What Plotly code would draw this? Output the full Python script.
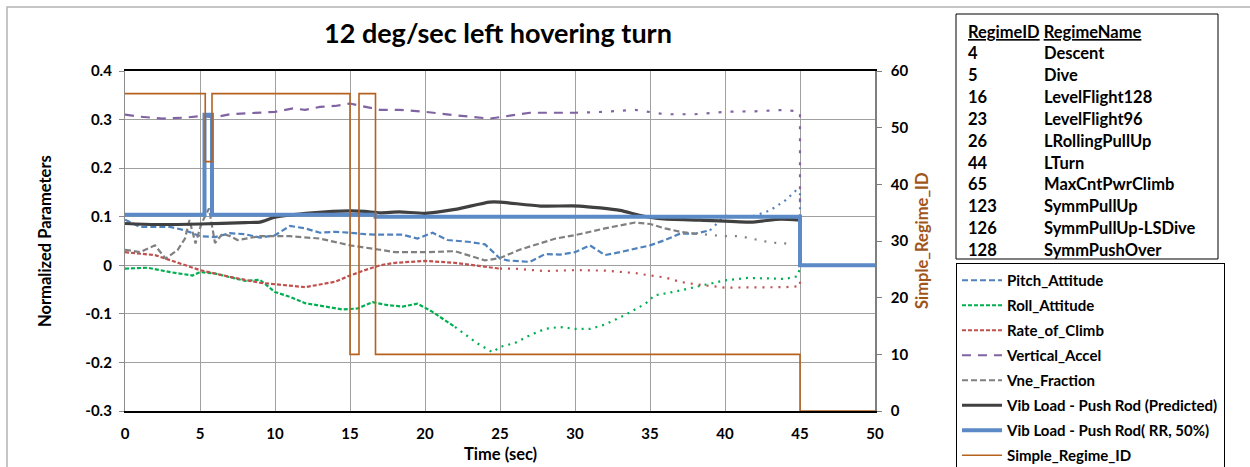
import plotly.graph_objects as go

# ---------------- data ----------------
t_pitch = [0, 1, 3, 4, 5, 6, 7, 8, 9, 10, 11, 12, 13, 14, 15, 16, 17, 18.5, 19.5, 20.5, 21.5, 23, 24, 25,
           25.5, 27, 28, 29, 30, 31, 32, 33, 35, 36, 37, 38, 39, 40, 41, 42, 43, 44, 44.7, 45, 45]
pitch = [0.094, 0.079, 0.079, 0.072, 0.060, 0.058, 0.066, 0.064, 0.057, 0.062, 0.081, 0.076, 0.067, 0.069,
         0.067, 0.064, 0.063, 0.063, 0.055, 0.067, 0.052, 0.048, 0.043, 0.014, 0.010, 0.007, 0.023, 0.022,
         0.027, 0.041, 0.021, 0.027, 0.041, 0.052, 0.065, 0.065, 0.072, 0.102, 0.100, 0.102, 0.113, 0.133,
         0.153, 0.151, 0.100]

t_roll = [0, 1.5, 3, 4.5, 5, 6, 8, 9, 10, 11, 12, 13.5, 14.5, 15.5, 16.5, 17.5, 18.5, 19.5, 20.5, 22, 23.5,
          24.5, 25, 26, 27, 28, 29, 30, 31, 32, 33.3, 34.7, 35.3, 36.7, 38, 38.7, 40, 41.5, 43, 44, 44.8, 45]
roll = [-0.007, -0.005, -0.014, -0.021, -0.014, -0.017, -0.032, -0.030, -0.055, -0.065, -0.078, -0.085,
        -0.091, -0.089, -0.076, -0.082, -0.085, -0.079, -0.096, -0.127, -0.161, -0.179, -0.168, -0.160,
        -0.144, -0.131, -0.127, -0.131, -0.131, -0.122, -0.103, -0.079, -0.062, -0.054, -0.045, -0.039,
        -0.031, -0.026, -0.027, -0.028, -0.023, -0.007]

t_roc = [0, 2, 5, 7, 9, 11, 12, 14, 15, 16, 17, 18, 20, 22, 24, 25, 26, 28, 30, 32, 34, 35, 36, 37, 38, 40,
         42, 44, 45, 45]
roc = [0.027, 0.021, -0.010, -0.024, -0.036, -0.043, -0.045, -0.034, -0.021, -0.010, 0.000, 0.005, 0.009,
       0.005, -0.002, -0.007, -0.007, -0.012, -0.010, -0.011, -0.016, -0.021, -0.025, -0.034, -0.039,
       -0.046, -0.046, -0.045, -0.043, -0.024]

t_va = [0, 1, 2.5, 4, 5, 6, 7, 8.5, 10, 11.2, 12, 13, 14, 15, 16, 17, 18.3, 20, 22, 24.3, 25, 27, 30, 32, 34,
        36, 38, 40, 42, 44, 45, 45]
va = [0.310, 0.306, 0.302, 0.304, 0.307, 0.305, 0.311, 0.314, 0.316, 0.323, 0.320, 0.326, 0.328, 0.333,
      0.326, 0.320, 0.320, 0.316, 0.309, 0.302, 0.305, 0.314, 0.314, 0.316, 0.320, 0.311, 0.311, 0.316,
      0.317, 0.320, 0.316, 0.130]

t_vne = [0, 1, 2, 2.7, 3.5, 4, 4.3, 4.7, 5.1, 5.6, 6, 6.5, 7, 7.5, 9, 11, 13, 15, 17, 18, 20, 22, 24, 25,
         26.3, 27.7, 28.7, 30, 31, 32, 34, 35, 36, 37, 38, 40, 41, 42, 43, 44, 44.6]
vne = [0.032, 0.027, 0.041, 0.014, 0.031, 0.055, 0.093, 0.045, 0.086, 0.117, 0.046, 0.065, 0.060, 0.052,
       0.060, 0.060, 0.055, 0.041, 0.032, 0.027, 0.027, 0.029, 0.010, 0.015, 0.032, 0.045, 0.055, 0.062,
       0.069, 0.076, 0.088, 0.085, 0.076, 0.069, 0.065, 0.060, 0.060, 0.053, 0.047, 0.045, 0.041]

t_pred = [0, 2, 5, 8, 9, 10, 12.5, 15, 16, 17, 18.3, 20, 22, 24.3, 25, 27.7, 30.3, 33, 34.3, 35.7, 38.3,
          41.7, 43.7, 45]
pred = [0.086, 0.084, 0.085, 0.088, 0.089, 0.099, 0.108, 0.112, 0.111, 0.108, 0.110, 0.107, 0.115, 0.130,
        0.130, 0.122, 0.122, 0.113, 0.103, 0.096, 0.093, 0.089, 0.095, 0.093]

t_rr = [0, 5.3, 5.8, 16.7, 45, 50]
rr = [0.104, 0.310, 0.104, 0.100, 0.000, 0.000]

t_reg = [0, 5.35, 5.8, 15.0, 15.6, 16.7, 45, 50]
reg = [56, 44, 56, 10, 56, 10, 0, 0]

y_ticks = [0.4, 0.3, 0.2, 0.1, 0, -0.1, -0.2, -0.3]
y_ticktext = ["0.4", "0.3", "0.2", "0.1", "0", "-0.1", "-0.2", "-0.3"]
x_ticks = [0, 5, 10, 15, 20, 25, 30, 35, 40, 45, 50]
y2_ticks = [0, 10, 20, 30, 40, 50, 60]

regime_ids = ["4", "5", "16", "23", "26", "44", "65", "123", "126", "128"]
regime_names = ["Descent", "Dive", "LevelFlight128", "LevelFlight96", "LRollingPullUp", "LTurn",
                "MaxCntPwrClimb", "SymmPullUp", "SymmPullUp-LSDive", "SymmPushOver"]

title_text = "12 deg/sec left hovering turn"

# ---------------- layout helpers ----------------
W, H = 1250, 467
L, R, T, B = 125, 375, 71, 56
PW, PH = W - L - R, H - T - B
FONT = "Lato"


def px(x):
    return (x - L) / PW


def py(y):
    return (H - B - y) / PH


fig = go.Figure()


def add_split(t, y, name, color, width, dash1, dash2, split_at):
    idx = next((i for i, v in enumerate(t) if v >= split_at), len(t) - 1)
    fig.add_trace(go.Scatter(x=t[:idx + 1], y=y[:idx + 1], mode="lines", name=name, legendgroup=name,
                             line=dict(color=color, width=width, dash=dash1)))
    fig.add_trace(go.Scatter(x=t[idx:], y=y[idx:], mode="lines", name=name, legendgroup=name,
                             showlegend=False, line=dict(color=color, width=width, dash=dash2)))


add_split(t_pitch, pitch, "Pitch_Attitude", "#4F81BD", 2.2, "6px,3px", "2px,5px", 38.5)
add_split(t_roll, roll, "Roll_Attitude", "#00B050", 2.2, "4px,2px", "2px,5px", 22)
add_split(t_roc, roc, "Rate_of_Climb", "#C0504D", 2.2, "4px,2px", "2px,6px", 25)
add_split(t_va, va, "Vertical_Accel", "#8064A2", 2.2, "9px,7px", "3px,9px", 30)
add_split(t_vne, vne, "Vne_Fraction", "#808080", 2.2, "6px,3px", "2px,8px", 38)

fig.add_trace(go.Scatter(x=t_pred, y=pred, mode="lines", name="Vib Load - Push Rod (Predicted)",
                         legendgroup="pred", line=dict(color="#404040", width=3.2, shape="spline",
                                                      smoothing=0.6)))
fig.add_trace(go.Scatter(x=t_rr, y=rr, mode="lines", name="Vib Load - Push Rod( RR, 50%)",
                         legendgroup="rr", line=dict(color="#5B8AC6", width=4, shape="hv")))
fig.add_trace(go.Scatter(x=t_reg, y=reg, mode="lines", name="Simple_Regime_ID", yaxis="y2",
                         legendgroup="reg", line=dict(color="#B5621E", width=1.6, shape="hv")))

tickfont = dict(family=FONT, size=15, color="#000000", weight="bold")

fig.update_layout(
    width=W, height=H,
    margin=dict(l=L, r=R, t=T, b=B, pad=0, autoexpand=False),
    paper_bgcolor="#FFFFFF", plot_bgcolor="#FFFFFF",
    font=dict(family=FONT, size=14, color="#000000"),
    showlegend=True,
    legend=dict(x=px(956), y=py(263), xanchor="left", yanchor="top",
                bordercolor="#000000", borderwidth=1, bgcolor="#FFFFFF",
                traceorder="grouped", tracegroupgap=2.5, itemwidth=40,
                font=dict(family=FONT, size=15, color="#000000", weight="bold")),
    xaxis=dict(range=[0, 50], tickvals=x_ticks, showgrid=True, gridcolor="#A0A0A0", gridwidth=1,
               showline=True, linecolor="#000000", linewidth=1.5, mirror=True, ticks="",
               tickfont=tickfont, ticklabelstandoff=8, zeroline=False),
    yaxis=dict(range=[-0.3, 0.4], tickvals=y_ticks, ticktext=y_ticktext, showgrid=True,
               gridcolor="#A0A0A0", gridwidth=1, showline=True, linecolor="#8C8C8C", linewidth=1.2,
               ticks="outside", ticklen=5, tickcolor="#8C8C8C", tickfont=tickfont,
               ticklabelstandoff=4, zeroline=False),
    yaxis2=dict(range=[0, 60], tickvals=y2_ticks, overlaying="y", side="right", showgrid=False,
                showline=True, linecolor="#7F7F7F", linewidth=1.5, ticks="outside", ticklen=5,
                tickcolor="#7F7F7F", tickfont=tickfont, ticklabelstandoff=6, zeroline=False),
)

ann = []
ann.append(dict(text="<b>" + title_text + "</b>", x=px(498), y=py(33), xref="paper", yref="paper",
                showarrow=False, xanchor="center", yanchor="middle",
                font=dict(family=FONT, size=27, color="#000000")))
ann.append(dict(text="<b>Normalized Parameters</b>", x=px(45), y=py(241), xref="paper", yref="paper",
                showarrow=False, textangle=-90, xanchor="center", yanchor="middle",
                font=dict(family=FONT, size=16.5, color="#000000")))
ann.append(dict(text="<b>Time (sec)</b>", x=px(500), y=py(454), xref="paper", yref="paper",
                showarrow=False, xanchor="center", yanchor="middle",
                font=dict(family=FONT, size=16.5, color="#000000")))
ann.append(dict(text="<b>Simple_Regime_ID</b>", x=px(922), y=py(241), xref="paper", yref="paper",
                showarrow=False, textangle=-90, xanchor="center", yanchor="middle",
                font=dict(family=FONT, size=16.5, color="#A0561A")))

tfont = dict(family=FONT, size=16.5, color="#000000")
ann.append(dict(text="<b><u>RegimeID</u> <u>RegimeName</u></b>", x=px(966), y=py(32), xref="paper",
                yref="paper", showarrow=False, xanchor="left", yanchor="middle", font=tfont))
for i, (rid, rname) in enumerate(zip(regime_ids, regime_names)):
    yy = 53.5 + i * 21.8
    ann.append(dict(text="<b>" + rid + "</b>", x=px(966), y=py(yy), xref="paper", yref="paper",
                    showarrow=False, xanchor="left", yanchor="middle", font=tfont))
    ann.append(dict(text="<b>" + rname + "</b>", x=px(1042), y=py(yy), xref="paper", yref="paper",
                    showarrow=False, xanchor="left", yanchor="middle", font=tfont))
fig.update_layout(annotations=ann)

shapes = [
    # outer chart frame (extends past right/bottom edges)
    dict(type="rect", xref="paper", yref="paper", x0=px(7), x1=px(1300), y0=py(7), y1=py(520),
         line=dict(color="#B4B4B4", width=1.5), fillcolor="rgba(0,0,0,0)", layer="below"),
    # regime table box
    dict(type="rect", xref="paper", yref="paper", x0=px(956), x1=px(1218), y0=py(14), y1=py(259),
         line=dict(color="#000000", width=1), fillcolor="rgba(0,0,0,0)"),
]
fig.update_layout(shapes=shapes)

fig.write_html("out.html")
